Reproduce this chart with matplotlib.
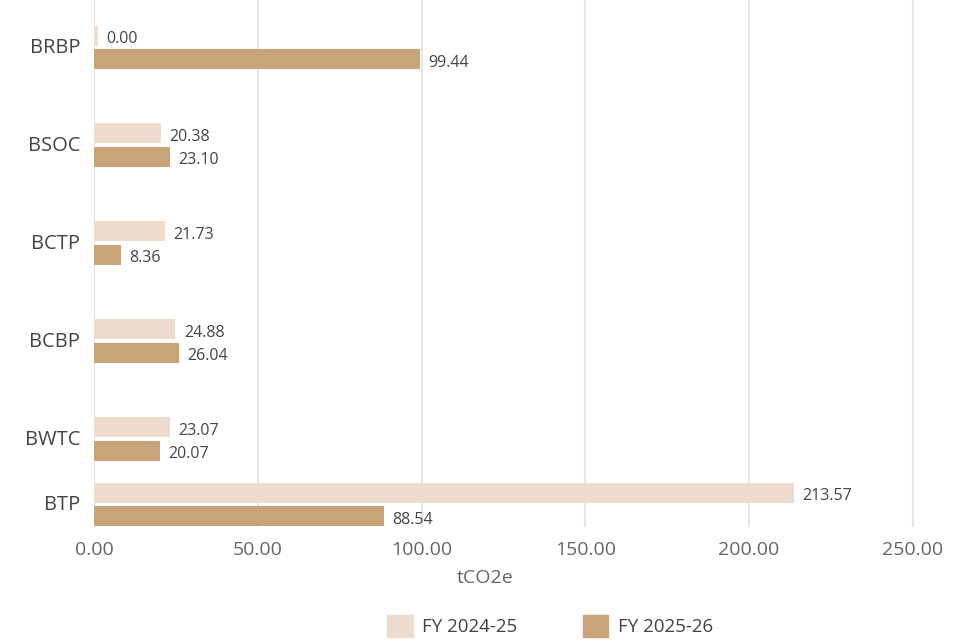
import numpy as np
import matplotlib.pyplot as plt

plt.rcParams['font.family'] = ['Open Sans', 'DejaVu Sans']

# emissions per site, listed top to bottom
sites = ['BRBP', 'BSOC', 'BCTP', 'BCBP', 'BWTC', 'BTP']
fy_2425 = [0.00, 20.38, 21.73, 24.88, 23.07, 213.57]
fy_2526 = [99.44, 23.10, 8.36, 26.04, 20.07, 88.54]
series_names = ['FY 2024-25', 'FY 2025-26']
x_ticks = [0, 50, 100, 150, 200, 250]

# row centres (last row sits closer to the one above)
row_pos = np.array([0.485, 1.48, 2.48, 3.48, 4.48, 5.148])
bar_h = 0.204
off = 0.122
min_len = 1.2  # keep zero bars visible as a thin sliver

c_light = '#eddccd'
c_dark = '#c7a579'

fig = plt.figure(figsize=(9.62, 6.42), dpi=100)
ax = fig.add_axes([94 / 962, 1 - 527 / 642, 1 - 94 / 962, 527 / 642])

for vals, c, dy in [(fy_2425, c_light, -off), (fy_2526, c_dark, off)]:
    vals = np.array(vals)
    ax.barh(row_pos + dy, np.maximum(vals, min_len), height=bar_h, color=c, zorder=3)
    for v, y in zip(vals, row_pos + dy):
        ax.annotate(f'{v:.2f}', (max(v, min_len), y), xytext=(6, -2.5),
                    textcoords='offset points', va='center', ha='left',
                    fontsize=11.5, color='#444444', zorder=4)

ax.set_xlim(0, 265)
ax.set_ylim(527 / 98, 0)
ax.set_yticks(row_pos - 0.02)
ax.set_yticklabels(sites, fontsize=14.5, color='#444444')
ax.set_xticks(x_ticks)
ax.set_xticklabels([f'{t:.2f}' for t in x_ticks], fontsize=14, color='#666666')
ax.tick_params(axis='both', length=0)
ax.tick_params(axis='x', pad=10)
ax.tick_params(axis='y', pad=10)
ax.grid(axis='x', color='#e6e6e6', linewidth=1.5, zorder=0)
for s in ax.spines.values():
    s.set_visible(False)

fig.text(485 / 962, 1 - 578 / 642, 'tCO2e', ha='center', va='center',
         fontsize=14, color='#666666')

handles = [plt.Rectangle((0, 0), 1, 1, color=c_light),
           plt.Rectangle((0, 0), 1, 1, color=c_dark)]
fig.legend(handles, series_names, loc='center', ncol=2,
           bbox_to_anchor=(550 / 962, 1 - 626 / 642), frameon=False,
           fontsize=13.5, labelcolor='#444444', handlelength=1.35,
           handleheight=1.35, columnspacing=3.5, handletextpad=0.5)

fig.savefig('out.png', dpi=100)
